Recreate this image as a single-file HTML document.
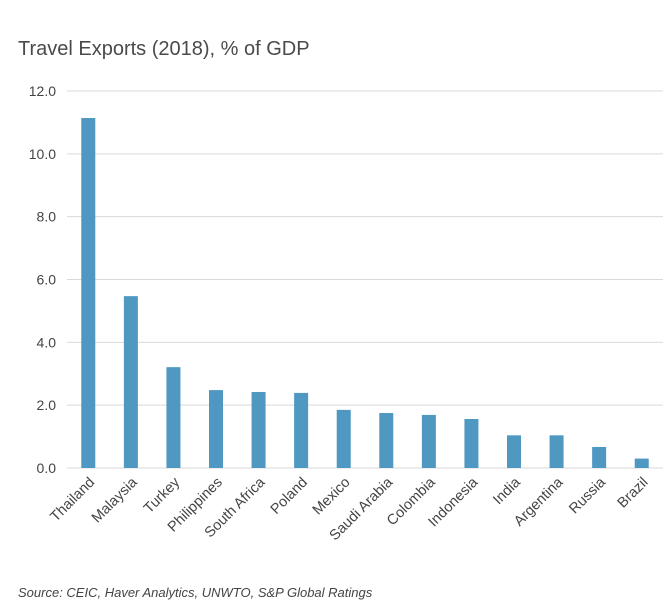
<!DOCTYPE html>
<html><head><meta charset="utf-8"><style>
body{margin:0;background:#fff;width:671px;height:608px;overflow:hidden;font-family:"Liberation Sans",sans-serif}
</style></head><body>
<svg width="671" height="608">
<text x="18" y="55" font-size="20" fill="#4a4a4a">Travel Exports (2018),  % of GDP</text>
<g id="grid"></g><g id="bars"></g><g id="xl"></g>
<text x="18" y="597" font-size="13" font-style="italic" fill="#444">Source: CEIC, Haver Analytics, UNWTO, S&amp;P Global Ratings</text>
</svg>
<script>
const categories=["Thailand","Malaysia","Turkey","Philippines","South Africa","Poland","Mexico","Saudi Arabia","Colombia","Indonesia","India","Argentina","Russia","Brazil"];
const values=[11.14,5.47,3.21,2.48,2.42,2.39,1.85,1.75,1.69,1.56,1.04,1.04,0.67,0.30];
const ticks=[0,2,4,6,8,10,12];
const tickLabels=["0.0","2.0","4.0","6.0","8.0","10.0","12.0"];
const NS="http://www.w3.org/2000/svg";
const x0=67,x1=663,y0=468,y1=91,ymax=12;
const y=v=>y0-(y0-y1)*v/ymax;
const bw=(x1-x0)/categories.length;
const xc=i=>x0+(i+0.5)*bw;
function mk(t,a,p){const e=document.createElementNS(NS,t);for(const k in a)e.setAttribute(k,a[k]);p.appendChild(e);return e;}
const g=document.getElementById('grid'),b=document.getElementById('bars'),xl=document.getElementById('xl');
ticks.forEach((t,i)=>{
 const l=mk('line',{x1:x0,x2:x1,y1:y(t),y2:y(t),stroke:'#d9d9d9','stroke-width':1},g);
 
 
 const tx=mk('text',{x:56,y:y(t)+5,'text-anchor':'end','font-size':14,fill:'#444'},g);
 tx.textContent=tickLabels[i];
 
 
});
categories.forEach((c,i)=>{
 const r=mk('rect',{x:xc(i)-7,y:y(values[i]),width:14,height:y0-y(values[i]),fill:'#4e98c1'},b);
 
 
 const t=mk('text',{x:0,y:0,'text-anchor':'end','font-size':14.5,fill:'#444',transform:`translate(${xc(i)+7},${y0+15}) rotate(-45)`},xl);
 t.textContent=c;
 
 
});
</script>
</body></html>
